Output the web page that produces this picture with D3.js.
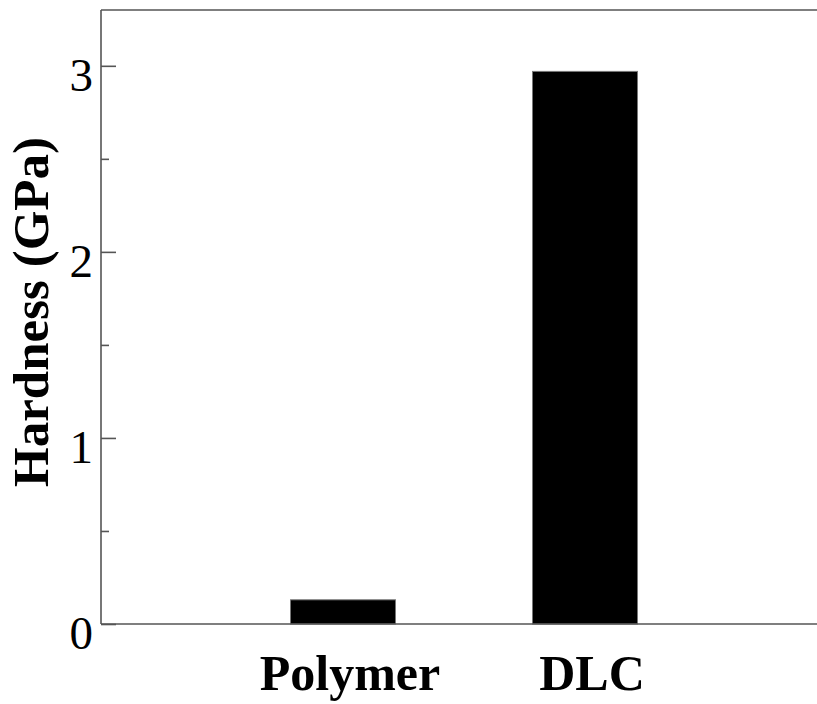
<!DOCTYPE html>
<html>
<head>
<meta charset="utf-8">
<script src="https://cdn.jsdelivr.net/npm/d3@7"></script>
<style>
  html, body { margin: 0; padding: 0; background: #fff; }
  svg { display: block; }
</style>
</head>
<body>
<svg id="chart" width="817" height="704"></svg>
<script>
// Hardness of the two coatings
const categories = ["Polymer", "DLC"];
const hardness = [0.13, 2.97];
const majorTicks = [0, 1, 2, 3];
const minorTicks = [0.5, 1.5, 2.5];
const yTitle = "Hardness (GPa)";

const svg = d3.select("#chart");
const plotLeft = 101, plotTop = 10, plotBottom = 624, plotRightExtent = 827;
const serif = "'Liberation Serif', 'Times New Roman', serif";
const axisColor = "#555";

const y = d3.scaleLinear().domain([0, 3.3]).range([plotBottom, plotTop]);
// category slots sit at positions 1 and 2 of a 0..3 range
const x = d3.scaleLinear().domain([0, 3]).range([plotLeft, plotRightExtent]);
const barWidth = 105;

// bars
svg.selectAll("rect.bar")
  .data(categories.map((c, i) => ({ c, v: hardness[i], i })))
  .join("rect")
  .attr("class", "bar")
  .attr("x", d => x(d.i + 1) - barWidth / 2)
  .attr("width", barWidth)
  .attr("y", d => y(d.v))
  .attr("height", d => y(0) - y(d.v))
  .attr("fill", "#000")
  .attr("stroke", "#777")
  .attr("stroke-width", 1);

// frame: left axis, bottom axis, top border
const frame = svg.append("g")
  .attr("stroke", axisColor).attr("stroke-width", 1.6).attr("fill", "none");
frame.append("line").attr("x1", plotLeft).attr("x2", plotLeft).attr("y1", plotTop).attr("y2", plotBottom);
frame.append("line").attr("x1", plotLeft).attr("x2", 817).attr("y1", plotBottom).attr("y2", plotBottom);
frame.append("line").attr("x1", plotLeft).attr("x2", 817).attr("y1", plotTop).attr("y2", plotTop);

// y axis with inward ticks
const yAxis = d3.axisRight(y)
  .tickValues(majorTicks)
  .tickSize(15)
  .tickFormat("");
const gy = svg.append("g").attr("transform", `translate(${plotLeft},0)`).call(yAxis);
gy.select(".domain").remove();
gy.selectAll(".tick line").attr("stroke", axisColor).attr("stroke-width", 1.6);

const yMinor = d3.axisRight(y).tickValues(minorTicks).tickSize(8).tickFormat("");
const gm = svg.append("g").attr("transform", `translate(${plotLeft},0)`).call(yMinor);
gm.select(".domain").remove();
gm.selectAll(".tick line").attr("stroke", axisColor).attr("stroke-width", 1.6);

// tick labels
svg.append("g").selectAll("text")
  .data(majorTicks)
  .join("text")
  .attr("x", 93)
  .attr("y", d => y(d) + 9)
  .attr("dy", "0.35em")
  .attr("text-anchor", "end")
  .attr("font-family", serif)
  .attr("font-size", 47)
  .attr("fill", "#000")
  .text(d => d);

// category labels
svg.append("g").selectAll("text")
  .data(categories.map((c, i) => ({ c, i })))
  .join("text")
  .attr("x", d => x(d.i + 1) + 7)
  .attr("y", 690)
  .attr("text-anchor", "middle")
  .attr("font-family", serif)
  .attr("font-weight", "bold")
  .attr("font-size", 50)
  .attr("fill", "#000")
  .text(d => d.c);

// y title
svg.append("text")
  .attr("transform", "translate(48,312) rotate(-90)")
  .attr("text-anchor", "middle")
  .attr("font-family", serif)
  .attr("font-weight", "bold")
  .attr("font-size", 51)
  .attr("fill", "#000")
  .text(yTitle);
</script>
</body>
</html>
